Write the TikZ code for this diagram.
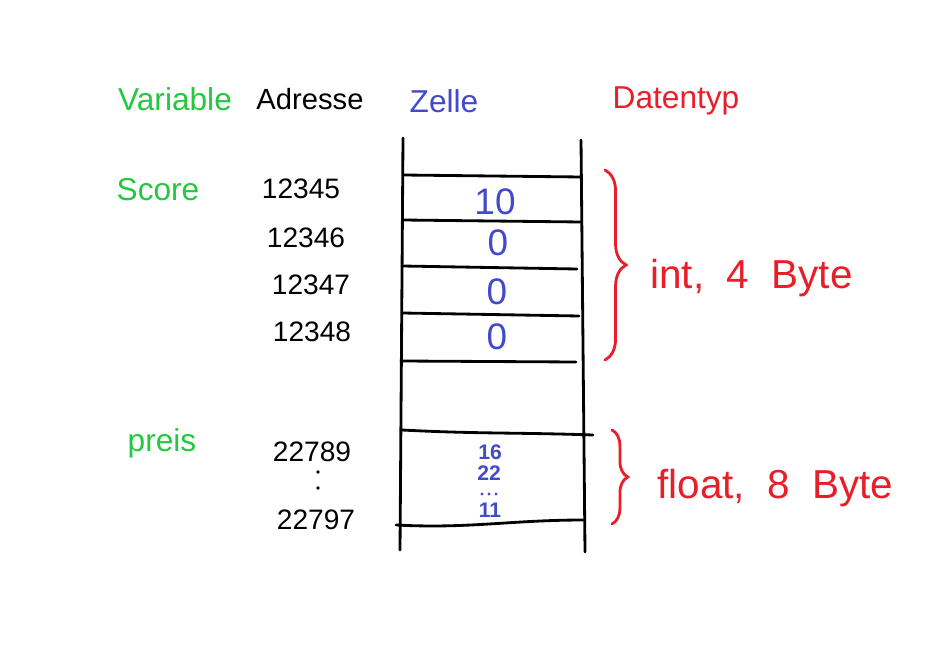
\documentclass[tikz,border=0pt]{standalone}
\usepackage{fontspec}
\setmainfont{Liberation Sans}
\usetikzlibrary{decorations.pathreplacing}
\definecolor{vargreen}{RGB}{36,200,64}
\definecolor{cellblue}{RGB}{66,74,204}
\definecolor{typered}{RGB}{232,30,40}

\tikzset{
    headlabel/.style={font=\fontsize{9}{11}\selectfont},
    addrlabel/.style={font=\fontsize{8}{10}\selectfont},
    cellval/.style={text=cellblue, font=\fontsize{10.5}{12}\selectfont},
    smallval/.style={text=cellblue, font=\fontsize{6}{7}\selectfont\bfseries},
    typelabel/.style={text=typered, anchor=west, font=\fontsize{11.5}{14}\selectfont},
    cellline/.style={thick, line cap=round},
    typebrace/.style={thick, typered, line cap=round, decorate, decoration={brace, amplitude=6pt}}
}

\begin{document}
\begin{tikzpicture}[x=0.01cm, y=-0.01cm]
    \useasboundingbox (0,0) rectangle (952,649);

    % Headings
    \node[headlabel, text=vargreen] (hvar) at (175,99) {Variable};
    \node[headlabel, font=\fontsize{8.3}{10}\selectfont] (hadr) at (310,99) {Adresse};
    \node[headlabel, text=cellblue] (hcell) at (444,101) {Zelle};
    \node[headlabel, text=typered] (htype) at (676,101) {Datentyp};

    % Memory column
    \draw[cellline] (403,138) -- (400,550);
    \draw[cellline] (581,140) -- (585,552);

    % Cell borders
    \draw[cellline] (403,175) -- (581,177);
    \draw[cellline] (403,220) -- (581,222);
    \draw[cellline] (402,266) -- (577,269);
    \draw[cellline] (402,313) -- (579,316);
    \draw[cellline] (401,361) -- (576,362);
    \draw[cellline] (402,430) to[out=-3,in=178] (593,435);
    \draw[cellline] (396,525) to[out=-3,in=180] (584,520);

    % Cell contents
    \node[cellval] (c1) at (495,202) {10};
    \node[cellval] (c2) at (498,243) {0};
    \node[cellval] (c3) at (497,292) {0};
    \node[cellval] (c4) at (497,337) {0};
    \node[smallval] (f1) at (490,452) {16};
    \node[smallval] (f2) at (489,473) {22};
    \fill[cellblue] (482,494) circle (1.6) (489,494) circle (1.6) (496,494) circle (1.6);
    \node[smallval] (f3) at (490,510) {11};

    % Addresses
    \node[addrlabel] (a1) at (301,189) {12345};
    \node[addrlabel] (a2) at (306,238) {12346};
    \node[addrlabel] (a3) at (311,285) {12347};
    \node[addrlabel] (a4) at (312,332) {12348};
    \node[addrlabel] (a5) at (312,452) {22789};
    \fill (318,472) circle (1.8) (318,488) circle (1.8);
    \node[addrlabel] (a6) at (316,520) {22797};

    % Variables
    \node[headlabel, text=vargreen] (vscore) at (158,190) {Score};
    \node[headlabel, text=vargreen] (vpreis) at (162,443) {preis};

    % Type braces
    \coordinate (bi1) at (605,170);
    \coordinate (bi2) at (605,360);
    \draw[typebrace] (bi1) -- (bi2);
    \node[typelabel] (tint) at (638,278) {int,\ \ 4 \ Byte};

    \coordinate (bf1) at (612,430);
    \coordinate (bf2) at (612,524);
    \draw[typebrace, decoration={amplitude=4.5pt}] (bf1) -- (bf2);
    \node[typelabel] (tfloat) at (645,488) {float,\ \ 8 \ Byte};
\end{tikzpicture}
\end{document}
